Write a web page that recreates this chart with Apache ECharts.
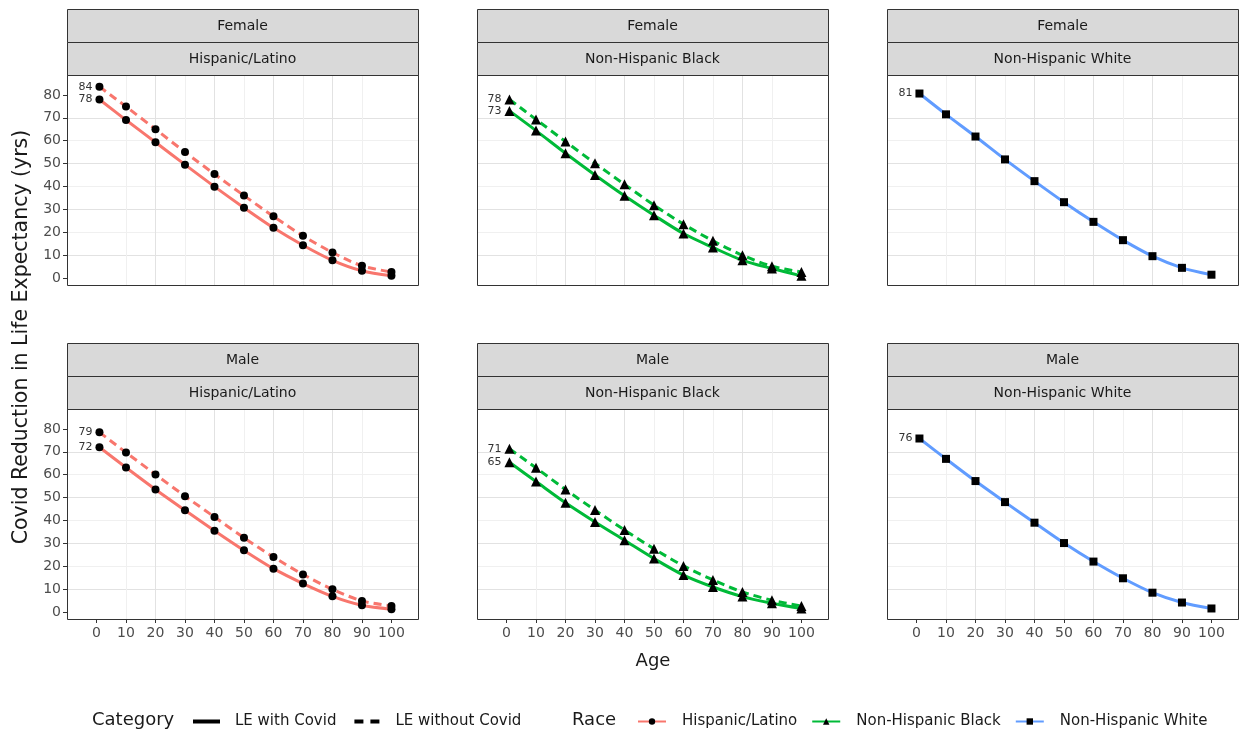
<!DOCTYPE html>
<html>
<head>
<meta charset="utf-8">
<script src="https://cdn.jsdelivr.net/npm/echarts@6/dist/echarts.min.js"></script>
<style>
html, body { margin: 0; padding: 0; background: #fff; }
#chart { width: 1239px; height: 732px; }
</style>
</head>
<body>
<div id="chart"></div>
<script>
var ages = [1, 10, 20, 30, 40, 50, 60, 70, 80, 90, 100];
var xTicks = [0, 10, 20, 30, 40, 50, 60, 70, 80, 90, 100];
var yTicks = [0, 10, 20, 30, 40, 50, 60, 70, 80];

var sexes = ['Female', 'Male'];
var races = ['Hispanic/Latino', 'Non-Hispanic Black', 'Non-Hispanic White'];
var categories = ['LE with Covid', 'LE without Covid'];

var femHispWith = [78.0, 69.0, 59.3, 49.5, 39.9, 30.7, 21.9, 14.3, 7.7, 3.1, 0.9];
var femHispWithout = [83.6, 74.9, 65.0, 55.0, 45.4, 36.0, 26.9, 18.4, 11.1, 5.3, 2.6];
var femBlackWith = [73.0, 64.4, 54.5, 45.0, 35.9, 27.4, 19.4, 13.3, 7.7, 4.1, 0.9];
var femBlackWithout = [78.0, 69.3, 59.6, 50.1, 40.9, 31.8, 23.5, 16.2, 9.9, 5.1, 2.6];
var femWhite = [80.6, 71.5, 61.8, 51.8, 42.3, 33.1, 24.5, 16.5, 9.5, 4.4, 1.4];
var maleHispWith = [72.0, 63.1, 53.5, 44.4, 35.5, 26.9, 18.9, 12.4, 6.8, 2.9, 1.2];
var maleHispWithout = [78.5, 69.7, 60.1, 50.6, 41.5, 32.4, 24.0, 16.4, 9.9, 4.8, 2.6];
var maleBlackWith = [65.4, 57.0, 47.7, 39.3, 31.3, 23.3, 16.1, 10.9, 6.7, 3.8, 1.5];
var maleBlackWithout = [71.3, 63.0, 53.5, 44.5, 35.8, 27.6, 20.1, 14.0, 8.7, 5.1, 2.6];
var maleWhite = [75.8, 66.9, 57.2, 48.0, 39.0, 30.1, 22.0, 14.7, 8.4, 4.1, 1.5];

var raceColors = ['#F8766D', '#00BA38', '#619CFF'];
var raceSymbols = ['circle', 'triangle', 'rect'];
var raceSymbolSize = [8, 10, 8];

// panel layout
var colLeft = [67, 477, 887];
var rowTop = [75, 409];
var panelW = 351, panelH = 210, stripH = 33;

var panels = [
	{ row: 0, col: 0, withC: femHispWith, withoutC: femHispWithout },
	{ row: 0, col: 1, withC: femBlackWith, withoutC: femBlackWithout },
	{ row: 0, col: 2, withC: femWhite, withoutC: null },
	{ row: 1, col: 0, withC: maleHispWith, withoutC: maleHispWithout },
	{ row: 1, col: 1, withC: maleBlackWith, withoutC: maleBlackWithout },
	{ row: 1, col: 2, withC: maleWhite, withoutC: null }
];

var FONT = 'DejaVu Sans';
var grids = [], xAxes = [], yAxes = [], series = [], graphics = [];

function seriesData(vals) {
	return vals.map(function (v, i) {
		if (i === 0) {
			return {
				value: [ages[i], v],
				label: {
					show: true, position: 'left', distance: 3,
					formatter: function (p) { return Math.round(p.value[1]); },
					fontSize: 11, fontFamily: FONT, color: '#333'
				}
			};
		}
		return [ages[i], v];
	});
}

panels.forEach(function (p, i) {
	var left = colLeft[p.col], top = rowTop[p.row];
	grids.push({ left: left, top: top, width: panelW, height: panelH, show: true,
		backgroundColor: '#fff', borderWidth: 0 });
	var bottomRow = p.row === 1, leftCol = p.col === 0;
	xAxes.push({
		gridIndex: i, type: 'value', min: -10, max: 109, interval: 5, position: 'bottom',
		axisLine: { show: false, onZero: false },
		axisTick: { show: bottomRow, length: 4, customValues: xTicks, lineStyle: { color: '#333' } },
		axisLabel: { show: bottomRow, customValues: xTicks, margin: 7, fontSize: 14,
			fontFamily: FONT, color: '#4d4d4d' },
		splitLine: { show: true, showMinLine: false, showMaxLine: false,
			lineStyle: { color: ['#f0f0f0', '#e2e2e2'], width: 1 } }
	});
	yAxes.push({
		gridIndex: i, type: 'value', min: -3.1, max: 88.7, splitNumber: 18, position: 'left',
		axisLine: { show: false, onZero: false },
		axisTick: { show: leftCol, length: 4, customValues: yTicks, lineStyle: { color: '#333' } },
		axisLabel: { show: leftCol, customValues: yTicks, margin: 6, fontSize: 14,
			fontFamily: FONT, color: '#4d4d4d' },
		splitLine: { show: true, showMinLine: false, showMaxLine: false,
			lineStyle: { color: ['#e2e2e2', '#f0f0f0'], width: 1 } }
	});
	var c = raceColors[p.col];
	var base = {
		type: 'line', xAxisIndex: i, yAxisIndex: i, smooth: 0.3,
		symbol: raceSymbols[p.col], symbolSize: raceSymbolSize[p.col],
		itemStyle: { color: '#000' }, silent: true
	};
	if (p.withoutC) {
		series.push(Object.assign({}, base, {
			name: 'without-' + i, data: seriesData(p.withoutC),
			lineStyle: { color: c, width: 3, type: [8, 5] }
		}));
	}
	series.push(Object.assign({}, base, {
		name: 'with-' + i, data: seriesData(p.withC),
		lineStyle: { color: c, width: 3 }
	}));

	// strips
	[sexes[p.row], races[p.col]].forEach(function (txt, k) {
		var sy = top - stripH * (2 - k);
		graphics.push({ type: 'rect', shape: { x: left + 0.5, y: sy + 0.5, width: panelW, height: stripH },
			style: { fill: '#d9d9d9', stroke: '#333', lineWidth: 1 }, z: 10 });
		graphics.push({ type: 'text', x: left + panelW / 2, y: sy + stripH / 2 + 1,
			style: { text: txt, font: '14px "DejaVu Sans"', fill: '#1a1a1a', align: 'center', verticalAlign: 'middle' }, z: 11 });
	});
	// panel border
	graphics.push({ type: 'rect', shape: { x: left + 0.5, y: top + 0.5, width: panelW, height: panelH },
		style: { fill: null, stroke: '#333', lineWidth: 1 }, z: 10 });
});

// legend-only series
series.push({ type: 'line', name: categories[0], xAxisIndex: 0, yAxisIndex: 0, data: [], symbol: 'none',
	itemStyle: { color: '#000' }, lineStyle: { color: '#000', width: 3 } });
series.push({ type: 'line', name: categories[1], xAxisIndex: 0, yAxisIndex: 0, data: [], symbol: 'none',
	itemStyle: { color: '#000' }, lineStyle: { color: '#000', width: 3, type: [8, 5] } });
races.forEach(function (r, k) {
	series.push({ type: 'line', name: r, xAxisIndex: 0, yAxisIndex: 0, data: [],
		symbol: raceSymbols[k], symbolSize: raceSymbolSize[k] - 1,
		itemStyle: { color: '#000' }, lineStyle: { color: raceColors[k], width: 3 } });
});

graphics.push({ type: 'text', x: 22, y: 337, rotation: Math.PI / 2,
	style: { text: 'Covid Reduction in Life Expectancy (yrs)', font: '20.5px "DejaVu Sans"', fill: '#1a1a1a',
		align: 'center', verticalAlign: 'middle' } });
graphics.push({ type: 'text', x: 653, y: 661,
	style: { text: 'Age', font: '18px "DejaVu Sans"', fill: '#1a1a1a', align: 'center', verticalAlign: 'middle' } });
graphics.push({ type: 'text', x: 92, y: 720,
	style: { text: 'Category', font: '18px "DejaVu Sans"', fill: '#1a1a1a', align: 'left', verticalAlign: 'middle' } });
graphics.push({ type: 'text', x: 572, y: 720,
	style: { text: 'Race', font: '18px "DejaVu Sans"', fill: '#1a1a1a', align: 'left', verticalAlign: 'middle' } });

var myChart = echarts.init(document.getElementById('chart'));
myChart.setOption({
	animation: false,
	backgroundColor: '#fff',
	grid: grids,
	xAxis: xAxes,
	yAxis: yAxes,
	legend: [{
		data: [
			{ name: categories[0], icon: 'path://M0,0H27V4H0Z' },
			{ name: categories[1], icon: 'path://M0,0H9V4H0Z M16,0H25V4H16Z' }
		],
		left: 188, top: 709, itemWidth: 27, itemHeight: 4, itemGap: 18,
		selectedMode: false,
		textStyle: { fontSize: 15, fontFamily: FONT, color: '#1a1a1a', padding: [0, 0, 0, 10] }
	}, {
		data: races, left: 632, top: 709, itemWidth: 28, itemHeight: 8, itemGap: 14,
		selectedMode: false,
		textStyle: { fontSize: 15, fontFamily: FONT, color: '#1a1a1a', padding: [0, 0, 0, 11] }
	}],
	graphic: graphics,
	series: series
});
</script>
</body>
</html>
